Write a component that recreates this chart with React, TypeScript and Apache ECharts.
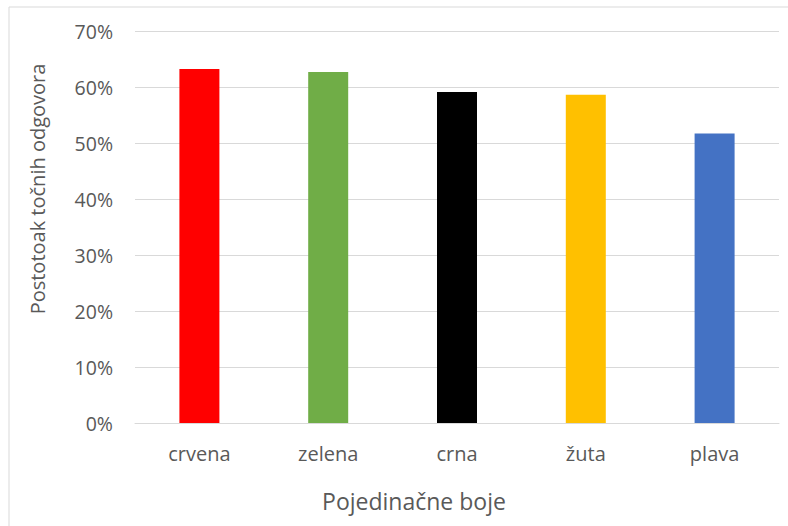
import React, { useEffect, useRef } from "react";
import * as echarts from "echarts";

const categories = ["crvena", "zelena", "crna", "žuta", "plava"];
const values = [63.2, 62.7, 59.1, 58.6, 51.7];
const barColors = ["#ff0000", "#70ad47", "#000000", "#ffc000", "#4472c4"];
const xTitle = "Pojedinačne boje";
const yTitle = "Postotoak točnih odgovora";

const FONT = "'Open Sans', 'Segoe UI', sans-serif";
const TXT = "#595959";

export default function App() {
  const ref = useRef<HTMLDivElement>(null);
  useEffect(() => {
    const chart = echarts.init(ref.current!, null, { renderer: "svg" });
    chart.setOption({
      animation: false,
      backgroundColor: "#ffffff",
      grid: { left: 135, right: 9, top: 31, bottom: 103, containLabel: false },
      xAxis: {
        type: "category",
        data: categories,
        axisLine: { show: true, lineStyle: { color: "#d9d9d9", width: 1 } },
        axisTick: { show: false },
        axisLabel: { color: TXT, fontFamily: FONT, fontSize: 20, margin: 20 },
      },
      yAxis: {
        type: "value",
        min: 0,
        max: 70,
        interval: 10,
        axisLine: { show: false },
        axisTick: { show: false },
        splitLine: { lineStyle: { color: "#d9d9d9", width: 1 } },
        axisLabel: {
          color: TXT,
          fontFamily: FONT,
          fontSize: 19.5,
          margin: 22,
          formatter: "{value}%",
        },
      },
      series: [
        {
          type: "bar",
          barWidth: 40,
          data: values.map((v, i) => ({ value: v, itemStyle: { color: barColors[i] } })),
        },
      ],
      graphic: [
        {
          type: "rect",
          shape: { x: 9, y: 7, width: 800, height: 540 },
          style: { fill: "none", stroke: "#d9d9d9", lineWidth: 1 },
          silent: true,
        },
        {
          type: "text",
          x: 414,
          y: 501,
          style: {
            text: xTitle,
            fill: TXT,
            font: `23px ${FONT}`,
            align: "center",
            verticalAlign: "middle",
          },
        },
        {
          type: "text",
          x: 37,
          y: 189,
          rotation: Math.PI / 2,
          style: {
            text: yTitle,
            fill: TXT,
            font: `20px ${FONT}`,
            align: "center",
            verticalAlign: "middle",
          },
        },
      ],
    });
    return () => chart.dispose();
  }, []);
  return (
    <div
      ref={ref}
      style={{ position: "absolute", left: 0, top: 0, width: 788, height: 526 }}
    />
  );
}
